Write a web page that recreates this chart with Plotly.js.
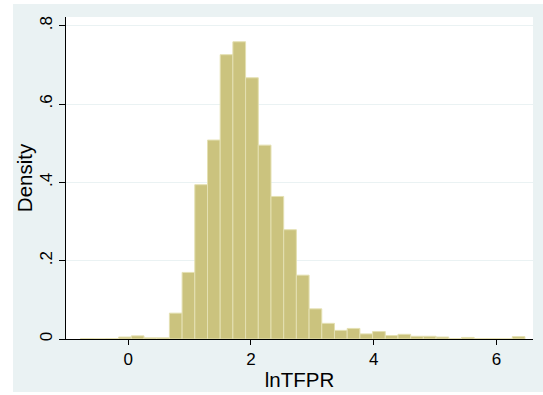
<!DOCTYPE html>
<html>
<head>
<meta charset="utf-8">
<script src="https://cdn.plot.ly/plotly-3.0.1.min.js"></script>
<style>
  html, body { margin: 0; padding: 0; background: #ffffff; width: 543px; height: 395px; overflow: hidden; }
  #chart { position: absolute; left: 13px; top: 4px; width: 530px; height: 388px; }
</style>
</head>
<body>
<div id="chart"></div>
<script>
// Histogram of lnTFPR (Stata-style), densities
const binStart = -0.779;
const binWidth = 0.207;
const density = [
  0.001, 0.0005, 0.001, 0.005, 0.008, 0.003, 0.003,
  0.066, 0.170, 0.394, 0.508, 0.726, 0.759, 0.667,
  0.495, 0.364, 0.279, 0.163, 0.077, 0.040, 0.022,
  0.027, 0.013, 0.019, 0.009, 0.012, 0.007, 0.007,
  0.005, 0.001, 0.004, 0.001, 0.001, 0.0005, 0.006
];
const xTickVals = [0, 2, 4, 6];
const xTickText = ['0', '2', '4', '6'];
const yTickVals = [0, 0.2, 0.4, 0.6, 0.8];
const yTickText = ['0', '.2', '.4', '.6', '.8'];
const xTitle = 'lnTFPR';
const yTitle = 'Density';

const centers = density.map((d, i) => binStart + (i + 0.5) * binWidth);

const trace = {
  type: 'bar',
  x: centers,
  y: density,
  width: binWidth,
  marker: {
    color: 'rgb(203,195,126)',
    line: { color: 'rgb(228,224,178)', width: 1 }
  },
  hoverinfo: 'x+y'
};

const font = 'Liberation Sans, Arial, Helvetica, sans-serif';

const layout = {
  width: 530,
  height: 388,
  margin: { l: 53, r: 10, t: 13, b: 53, pad: 0 },
  paper_bgcolor: 'rgb(234,242,243)',
  plot_bgcolor: '#ffffff',
  showlegend: false,
  bargap: 0,
  font: { family: font, color: '#000000' },
  xaxis: {
    range: [-1.0155, 6.597],
    tickvals: xTickVals,
    ticktext: xTickText,
    ticks: 'outside',
    ticklen: 5,
    tickwidth: 1,
    tickcolor: '#000000',
    tickfont: { size: 17, family: font, color: '#000000' },
    showgrid: false,
    zeroline: false,
    showline: true,
    linecolor: '#000000',
    linewidth: 1,
    title: { text: xTitle, font: { size: 20.5, family: font, color: '#000000' }, standoff: 4 }
  },
  yaxis: {
    range: [0, 0.8222],
    tickvals: yTickVals,
    ticktext: yTickText,
    tickangle: -90,
    ticks: 'outside',
    ticklen: 6,
    tickwidth: 1,
    tickcolor: '#000000',
    tickfont: { size: 17, family: font, color: '#000000' },
    showgrid: true,
    gridcolor: 'rgb(234,242,243)',
    gridwidth: 1,
    zeroline: false,
    showline: true,
    linecolor: '#000000',
    linewidth: 1,
    title: { text: yTitle, font: { size: 20.5, family: font, color: '#000000' }, standoff: 6 }
  }
};

Plotly.newPlot('chart', [trace], layout, { displayModeBar: false, staticPlot: true });
</script>
</body>
</html>
